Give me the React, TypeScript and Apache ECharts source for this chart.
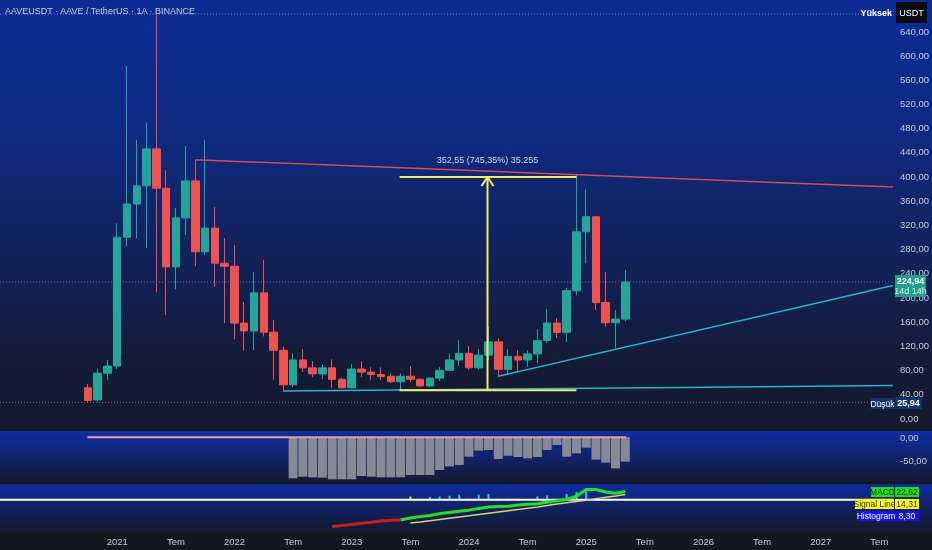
import React, { useEffect, useRef } from 'react';
import * as echarts from 'echarts';

// ---------- DATA ----------
const firstCandle = { year: 2020, month: 10 };
const opens = [50, 30, 74, 86, 299, 354, 384, 445, 380, 250, 331, 392, 275, 314, 256, 251, 157, 144, 207, 142, 112, 55, 96, 83, 73, 83, 64, 50, 81, 76, 72, 69, 60, 69, 64, 53, 66, 79, 96, 107, 83, 104, 126, 80.5, 102, 96, 106, 128, 157, 141.7, 210.5, 308, 333, 191, 157.6, 163.7];
const closes = [29, 74, 86, 299, 354, 384, 445, 380, 250, 331, 392, 275, 314, 256, 251, 157, 144, 207, 142, 112, 55, 96, 83, 73, 83, 64, 50, 81, 76, 72, 68.5, 60, 69, 64, 53, 66, 79, 96, 107, 83, 104, 126, 80.5, 102, 96, 106, 128, 157, 141.7, 210.5, 308, 333, 191, 157.6, 163.7, 224.94];
const lows = [25.94, 27, 63, 81, 284, 297, 281, 208, 170, 213, 303, 251, 270, 217, 157, 130, 111, 112, 135, 63, 45, 51, 76, 68, 64, 50, 49, 49, 68, 63, 63, 58, 46, 59, 51, 51, 61, 78, 86, 80, 80, 96, 70, 74, 77, 85, 91, 124, 132, 126, 203, 256, 179, 151, 116, 160];
const highs = [56, 82, 96, 322, 582, 460, 489, 668, 410, 347, 450, 427, 460, 349, 298, 286, 192, 241, 261, 162, 118, 107, 114, 94, 89, 97, 66, 89, 94, 84, 84, 74, 74, 86, 66, 67, 84, 107, 129, 119, 114, 151, 132, 114, 112, 112, 147, 180, 165, 215, 402, 378, 333, 242, 179, 245];

const oscStart = { year: 2022, month: 7 };
const oscValues = [-88.4, -84.8, -86.2, -86.9, -90.5, -90.5, -90.5, -83.3, -84.8, -86.2, -86.2, -86.2, -81.2, -81.2, -81.2, -70.4, -62.5, -59.6, -41.7, -28.7, -27.3, -46.7, -39.5, -42.4, -45.3, -42.4, -27.3, -16.5, -41.7, -34.5, -22.3, -48.1, -54.6, -66.8, -52.4];

const macdStart = { year: 2022, month: 11 };
const macdValues = [-74.7, -71.7, -68.6, -65.6, -62.5, -59.4, -57, -56.4, -51, -47, -44, -38.6, -35.6, -32, -29, -24.4, -20.3, -19, -18, -14.7, -12.5, -11, -7, -3, 0.5, 9.7, 28.3, 28.3, 21.4, 17.8, 22.6];
const macdTurn = { year: 2023, month: 6 };
const signalStart = { year: 2023, month: 7 };
const signalValues = [-65, -62, -58.5, -55, -51.5, -48, -44.5, -41, -37.5, -34, -30.5, -27, -23.5, -20, -16, -12, -8.5, -5, -1.5, 3, 7, 10.5, 14.3];
const histValues = [9, 3, 8, 9, 11, 14, 5, 14, 16, 5, 4, 4, 4, 9, 12, 5, 16, 22, 28, 6, 5, 4, 4];

const xTickLabels = ['2021', 'Tem', '2022', 'Tem', '2023', 'Tem', '2024', 'Tem', '2025', 'Tem', '2026', 'Tem', '2027', 'Tem'];
const priceTicks = [0, 40, 80, 120, 160, 200, 240, 280, 320, 360, 400, 440, 480, 520, 560, 600, 640];
const oscTicks = [0, -50];

// drawings (month index from Jan 2021, price)
const resistanceLine = [[8, 427], [79.4, 382]];
const supportFlat = [[17, 44.6], [79.4, 53.7]];
const supportRising = [[39, 69], [79.4, 219]];
const measureTop = [[28.9, 398.4], [47, 398.4]];
const measureBottom = [[28.9, 45.8], [47, 45.8]];
const measureStem = [[37.9, 45.8], [37.9, 398.4]];
const measureArrow = [[37.29, 383.7], [37.9, 398.4], [38.51, 383.7]];
const measureText = '352,55 (745,35%) 35.255';
const measureTextPos = [37.9, 426];
const allTimeHigh = 668;
const allTimeLow = 25.94;
const lastPrice = 224.94;

// ---------- HELPERS ----------
const X_MIN = -12;
const X_MAX = 79.4;
const FONT = '"Liberation Sans Narrow", "Liberation Sans", Arial, sans-serif';
const mi = (d: { year: number; month: number }) => (d.year - 2021) * 12 + (d.month - 1);
const fmt = (v: number) => v.toFixed(2).replace('.', ',');

function lineSeries(data: number[][], color: string, width: number, grid: number, extra: any = {}) {
  return {
    type: 'line',
    xAxisIndex: grid,
    yAxisIndex: grid,
    data,
    symbol: 'none',
    silent: true,
    z: 4,
    lineStyle: { color, width, ...(extra.lineStyle || {}) },
    ...extra.rest,
  };
}

function textEl(x: number, y: number, text: string, fill: string, size: number, align = 'left', bold = false) {
  return {
    type: 'text',
    x,
    y,
    z: 101,
    silent: true,
    style: {
      text,
      fill,
      fontSize: size,
      fontFamily: FONT,
      fontWeight: bold ? 'bold' : 'normal',
      align,
      verticalAlign: 'middle',
      textAlign: align,
      textVerticalAlign: 'middle',
    },
  };
}

function rectEl(x: number, y: number, w: number, h: number, fill: any, z = 100) {
  return { type: 'rect', z, silent: true, shape: { x, y, width: w, height: h }, style: { fill } };
}

function grad(stops: [number, string][]) {
  return new echarts.graphic.LinearGradient(0, 0, 0, 1, stops.map(([offset, color]) => ({ offset, color })));
}

function buildOption() {
  const c0 = mi(firstCandle);
  const candleData = opens.map((o, i) => [c0 + i, o, closes[i], lows[i], highs[i]]);
  const o0 = mi(oscStart);
  const oscData = oscValues.map((v, i) => [o0 + i, v]);
  const m0 = mi(macdStart);
  const turn = mi(macdTurn);
  const macdAll = macdValues.map((v, i) => [m0 + i, v]);
  const macdRed = macdAll.filter((p) => p[0] <= turn);
  const macdGreen = macdAll.filter((p) => p[0] >= turn);
  const s0 = mi(signalStart);
  const signalData = signalValues.map((v, i) => [s0 + i, v]);
  const histData = histValues.map((v, i) => ({
    value: [s0 + i, v],
    itemStyle: { color: i === 0 ? '#d8d45c' : v > histValues[i - 1] ? '#2fc4ee' : '#1d3fd8' },
  }));
  const xTickValues = xTickLabels.map((_, i) => i * 6);

  const xAxisBase = (gi: number, showLabels: boolean) => ({
    type: 'value',
    gridIndex: gi,
    min: X_MIN,
    max: X_MAX,
    axisLine: { show: false },
    axisTick: { show: false },
    splitLine: { show: false },
    axisLabel: showLabels
      ? {
          show: true,
          customValues: xTickValues,
          formatter: (v: number) => xTickLabels[Math.round(v / 6)] ?? '',
          color: '#c8ccd8',
          fontSize: 9.5,
          fontFamily: FONT,
          margin: 4,
        }
      : { show: false },
  });

  const graphic: any[] = [
    // pane backgrounds
    rectEl(0, 0, 932, 550, '#131722', -20),
    rectEl(0, 0, 932, 428, grad([[0, '#0d2c95'], [0.3, '#0e2a82'], [0.6, '#13225a'], [0.85, '#141b38'], [1, '#141a2c']]), -10),
    rectEl(0, 431, 932, 51, grad([[0, '#0d2ea4'], [0.45, '#112470'], [1, '#141a30']]), -10),
    rectEl(0, 484, 932, 48, grad([[0, '#0d2ca0'], [0.45, '#112266'], [1, '#141a2e']]), -10),
    // header
    textEl(5, 11, 'AAVEUSDT · AAVE / TetherUS · 1A · BINANCE', '#c8ccd8', 9),
    // high label
    textEl(892, 13, 'Yüksek', '#ffffff', 9, 'right', true),
    rectEl(896, 2, 31, 21, '#0a0c12'),
    textEl(911.5, 12.5, 'USDT', '#ffffff', 9, 'center'),
    // last price box
    rectEl(895, 275, 31, 22, '#1f9e89'),
    textEl(910.5, 281, fmt(lastPrice), '#ffffff', 9, 'center', true),
    textEl(910.5, 291, '14d 14h', '#e6f5f2', 9, 'center'),
    // low label
    rectEl(871, 398, 23, 11, '#16336e'),
    textEl(882.5, 403.5, 'Düşük', '#ffffff', 8.5, 'center'),
    rectEl(895, 397, 27, 12, '#16336e'),
    textEl(908.5, 403, fmt(allTimeLow), '#ffffff', 9, 'center', true),
    // MACD legend
    rectEl(871, 487, 23, 10, '#24d824'),
    textEl(882.5, 492, 'MACD', '#0a3a0a', 8.5, 'center'),
    rectEl(895, 487, 24, 10, '#24d824'),
    textEl(907, 492, '22,62', '#0a3a0a', 8.5, 'center'),
    rectEl(855, 499, 39, 10, '#fafa1e'),
    textEl(874.5, 504, 'Signal Line', '#2a2a00', 8.5, 'center'),
    rectEl(895, 499, 24, 10, '#fafa1e'),
    textEl(907, 504, '14,31', '#2a2a00', 8.5, 'center'),
    rectEl(858, 511, 36, 10, '#1212ea'),
    textEl(876, 516, 'Histogram', '#ffffff', 8.5, 'center'),
    rectEl(895, 511, 24, 10, '#1212ea'),
    textEl(907, 516, '8,30', '#ffffff', 8.5, 'center'),
  ];

  const fullWidth = (v: number) => [[X_MIN, v], [X_MAX, v]];

  return {
    animation: false,
    backgroundColor: 'transparent',
    grid: [
      { left: 0, right: 39, top: 0, height: 428 },
      { left: 0, right: 39, top: 431, height: 51 },
      { left: 0, right: 39, top: 484, height: 48 },
    ],
    xAxis: [xAxisBase(0, false), xAxisBase(1, false), xAxisBase(2, true)],
    yAxis: [
      {
        type: 'value',
        gridIndex: 0,
        position: 'right',
        min: -16.5,
        max: 691.3,
        axisLine: { show: false },
        axisTick: { show: false },
        splitLine: { show: false },
        axisLabel: { customValues: priceTicks, formatter: fmt, color: '#c8ccd8', fontSize: 9.5, fontFamily: FONT, margin: 7 },
      },
      {
        type: 'value',
        gridIndex: 1,
        position: 'right',
        min: -96.3,
        max: 13.6,
        axisLine: { show: false },
        axisTick: { show: false },
        splitLine: { show: false },
        axisLabel: { customValues: oscTicks, formatter: fmt, color: '#c8ccd8', fontSize: 9.5, fontFamily: FONT, margin: 7 },
      },
      {
        type: 'value',
        gridIndex: 2,
        position: 'right',
        min: -89.7,
        max: 43.6,
        axisLine: { show: false },
        axisTick: { show: false },
        splitLine: { show: false },
        axisLabel: { show: false },
      },
    ],
    graphic,
    series: [
      // dotted reference lines
      lineSeries(fullWidth(allTimeHigh), '#7f8bb0', 1, 0, { lineStyle: { type: [1, 2] } }),
      lineSeries(fullWidth(lastPrice), '#5a78a8', 1, 0, { lineStyle: { type: [1, 2] } }),
      lineSeries(fullWidth(allTimeLow), '#6a7696', 1, 0, { lineStyle: { type: [1, 2] } }),
      {
        type: 'candlestick',
        xAxisIndex: 0,
        yAxisIndex: 0,
        data: candleData,
        barWidth: 8,
        silent: true,
        z: 3,
        itemStyle: { color: '#26a69a', color0: '#ef5350', borderColor: '#26a69a', borderColor0: '#ef5350', borderWidth: 1 },
      },
      lineSeries(resistanceLine, '#d9475e', 1.5, 0),
      lineSeries(supportFlat, '#22b6cf', 1.5, 0),
      lineSeries(supportRising, '#22b6cf', 1.5, 0),
      lineSeries(measureBottom, '#f2ef5c', 2, 0),
      lineSeries(measureTop, '#f2ef5c', 2, 0),
      lineSeries(measureStem, '#f2ef5c', 2, 0),
      lineSeries(measureArrow, '#f2ef5c', 2, 0),
      {
        type: 'scatter',
        xAxisIndex: 0,
        yAxisIndex: 0,
        data: [measureTextPos],
        symbolSize: 0,
        silent: true,
        z: 5,
        label: { show: true, position: 'inside', formatter: measureText, color: '#ffffff', fontSize: 9, fontFamily: FONT },
      },
      // oscillator pane
      {
        type: 'bar',
        xAxisIndex: 1,
        yAxisIndex: 1,
        data: oscData,
        barWidth: 9,
        silent: true,
        itemStyle: { color: '#878a96' },
      },
      lineSeries([[c0 - 0.05, 0], [c0 + opens.length - 0.9, 0]], '#e79f98', 2, 1),
      // MACD pane
      lineSeries(fullWidth(0), '#ffffff', 2, 2),
      {
        type: 'bar',
        xAxisIndex: 2,
        yAxisIndex: 2,
        data: histData,
        barWidth: 2,
        silent: true,
        z: 3,
      },
      lineSeries(signalData, '#d8d071', 1.5, 2),
      lineSeries(macdRed, '#c81e1e', 3, 2),
      lineSeries(macdGreen, '#22e022', 3, 2),
    ],
  };
}

export default function App() {
  const ref = useRef<HTMLDivElement>(null);
  useEffect(() => {
    if (!ref.current) return;
    const chart = echarts.init(ref.current, undefined, { renderer: 'svg' });
    chart.setOption(buildOption() as any);
    return () => chart.dispose();
  }, []);
  return <div ref={ref} style={{ position: 'fixed', left: 0, top: 0, width: 932, height: 550 }} />;
}
